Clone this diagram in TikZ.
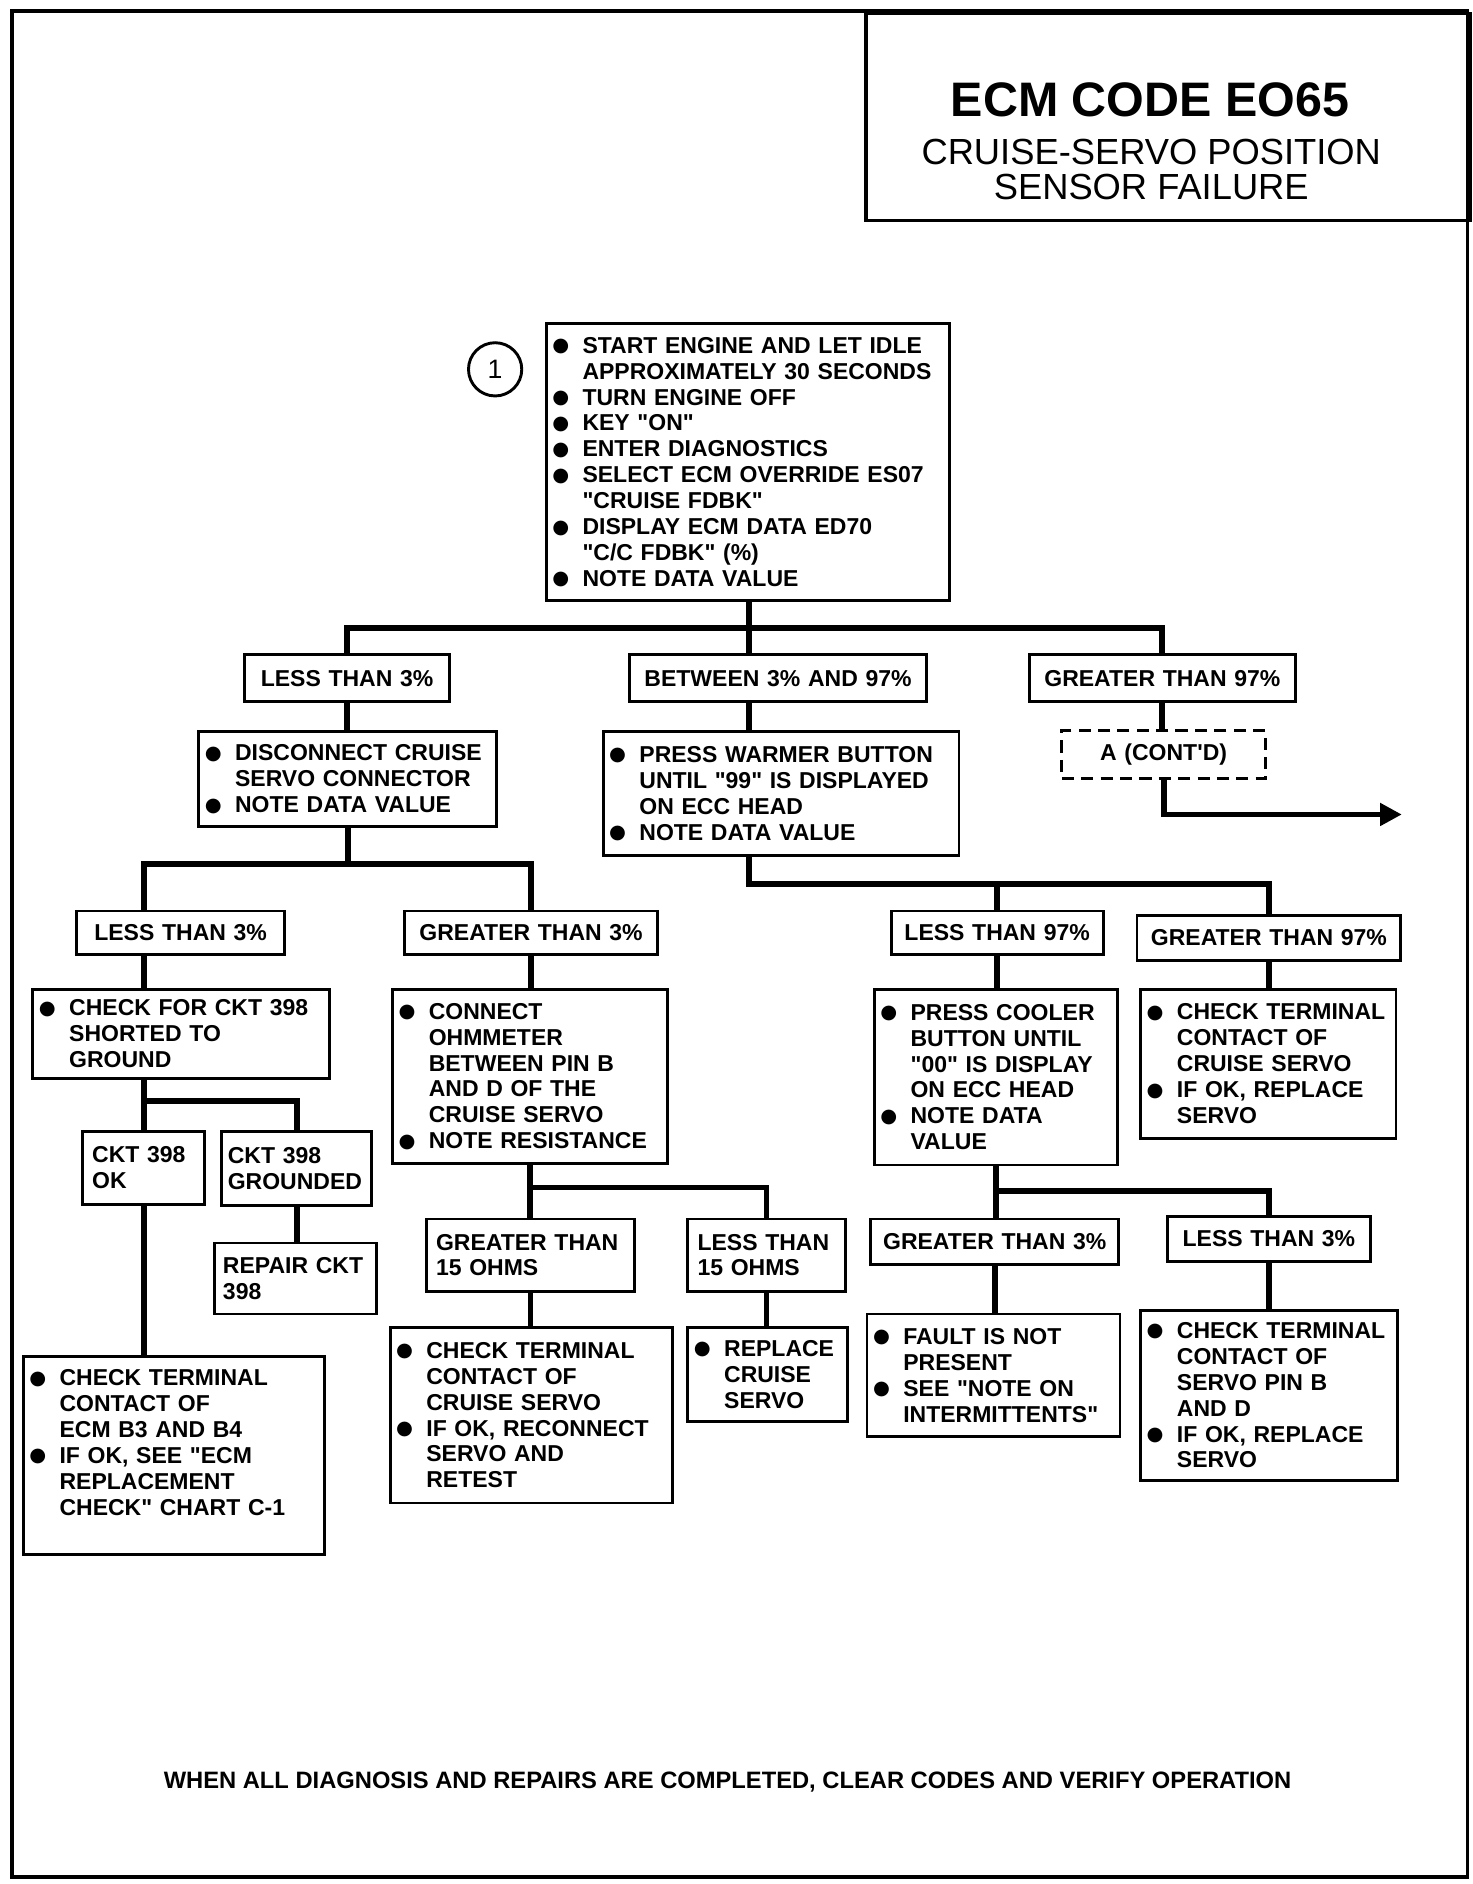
\documentclass[tikz,border=0pt]{standalone}
\usepackage{fontspec}
\setmainfont{Liberation Sans}[Ligatures=TeXOff]
\newfontfamily\dotfont{DejaVu Sans}
\usetikzlibrary{arrows.meta}

\newcommand{\chartfont}{\fontsize{9.5}{10.7}\selectfont\bfseries\hyphenpenalty=10000\exhyphenpenalty=10000}
\newcommand{\bul}{\makebox[13pt][l]{\kern0.5pt\raisebox{0.6pt}{\dotfont\fontsize{8}{8}\selectfont ●}}}
\newcommand{\cnt}{\hspace*{13pt}}

\tikzset{
  box/.style={draw, line width=1.2pt, anchor=north west, inner xsep=2pt, inner ysep=0pt, align=left, font=\chartfont},
  tag/.style={box, align=center},
  plain/.style={box, inner xsep=4pt},
  link/.style={line width=2.4pt},
}

\begin{document}
\begin{tikzpicture}[x=0.5pt, y=-0.4969pt]
\useasboundingbox (0,0) rectangle (1216,1566);

% title block
\node[draw, line width=1.4pt, anchor=north west, inner sep=0pt, minimum width=249.5pt, minimum height=85.5pt] (titlebox) at (714,10) {};
\node[anchor=base, font=\fontsize{20}{24}\selectfont\bfseries] (code) at (950,97) {ECM CODE EO65};
\node[anchor=base, font=\fontsize{15}{15}\selectfont] (subone) at (951,137) {CRUISE-SERVO POSITION};
\node[anchor=base, font=\fontsize{15}{15}\selectfont] (subtwo) at (951,166) {SENSOR FAILURE};

% first step
\node[circle, draw, line width=1.2pt, minimum size=22pt, inner sep=0pt, font=\fontsize{11}{13}\selectfont] (stepone) at (409,307) {1};
\node[box, text width=162.5pt, minimum height=114.3pt] (start) at (450,268)
  {\bul START ENGINE AND LET IDLE\\ \cnt APPROXIMATELY 30 SECONDS\\ \bul TURN ENGINE OFF\\ \bul KEY "ON"\\
   \bul ENTER DIAGNOSTICS\\ \bul SELECT ECM OVERRIDE ES07\\ \cnt "CRUISE FDBK"\\ \bul DISPLAY ECM DATA ED70\\
   \cnt "C/C FDBK" (\%)\\ \bul NOTE DATA VALUE};

% data value
\node[tag, text width=80.5pt, minimum height=19.4pt] (less1) at (201,543) {LESS THAN 3\%};
\node[tag, text width=118.5pt, minimum height=19.4pt] (between1) at (519,543) {BETWEEN 3\% AND 97\%};
\node[tag, text width=106pt, minimum height=19.4pt] (greater1) at (849,543) {GREATER THAN 97\%};

\node[box, text width=119pt, minimum height=39.3pt] (disconnect) at (163,607)
  {\bul DISCONNECT CRUISE\\ \cnt SERVO CONNECTOR\\ \bul NOTE DATA VALUE};
\node[box, text width=143pt, minimum height=51.2pt] (warmer) at (497,607)
  {\bul PRESS WARMER BUTTON\\ \cnt UNTIL "99" IS DISPLAYED\\ \cnt ON ECC HEAD\\ \bul NOTE DATA VALUE};
\node[tag, dash pattern=on 5pt off 3pt, text width=80pt, minimum height=19.9pt] (contd) at (876,606) {A (CONT'D)};
\coordinate (contarrow) at (1158,677);

% second data value
\node[tag, text width=82pt, minimum height=17.9pt] (less2) at (62,756) {LESS THAN 3\%};
\node[tag, text width=100.5pt, minimum height=17.9pt] (greater2) at (333,756) {GREATER THAN 3\%};
\node[tag, text width=83.5pt, minimum height=17.9pt] (less97) at (735,756) {LESS THAN 97\%};
\node[tag, text width=105pt, minimum height=18.4pt] (greater97) at (938,760) {GREATER THAN 97\%};

\node[box, text width=118.5pt, minimum height=36.8pt] (ckt) at (26,821)
  {\bul CHECK FOR CKT 398\\ \cnt SHORTED TO\\ \cnt GROUND};
\node[box, text width=109.5pt, minimum height=72.1pt] (ohm) at (323,821)
  {\bul CONNECT\\ \cnt OHMMETER\\ \cnt BETWEEN PIN B\\ \cnt AND D OF THE\\ \cnt CRUISE SERVO\\ \bul NOTE RESISTANCE};
\node[box, text width=96.5pt, minimum height=72.6pt] (cooler) at (721,821)
  {\bul PRESS COOLER\\ \cnt BUTTON UNTIL\\ \cnt "00" IS DISPLAY\\ \cnt ON ECC HEAD\\ \bul NOTE DATA\\ \cnt VALUE};
\node[box, text width=101.5pt, minimum height=61.6pt] (termcruise) at (941,821)
  {\bul CHECK TERMINAL\\ \cnt CONTACT OF\\ \cnt CRUISE SERVO\\ \bul IF OK, REPLACE\\ \cnt SERVO};

% results
\node[plain, text width=42.5pt, minimum height=30.3pt] (cktok) at (67,939) {CKT 398\\ OK};
\node[plain, inner xsep=2.5pt, text width=57pt, minimum height=30.8pt] (cktgnd) at (182,939) {CKT 398\\ GROUNDED};
\node[plain, text width=78pt, minimum height=29.8pt] (ohmhigh) at (351,1012) {GREATER THAN\\ 15 OHMS};
\node[plain, text width=57pt, minimum height=29.8pt] (ohmlow) at (567,1012) {LESS THAN\\ 15 OHMS};
\node[tag, text width=98.5pt, minimum height=18.9pt] (gt3) at (718,1012) {GREATER THAN 3\%};
\node[tag, text width=80pt, minimum height=18.4pt] (lt3) at (963,1010) {LESS THAN 3\%};

\node[plain, inner xsep=3.5pt, text width=60pt, minimum height=29.3pt] (repair) at (176,1032) {REPAIR CKT\\ 398};
\node[box, text width=120.5pt, minimum height=82pt] (termecm) at (18,1126)
  {\bul CHECK TERMINAL\\ \cnt CONTACT OF\\ \cnt ECM B3 AND B4\\ \bul IF OK, SEE "ECM\\ \cnt REPLACEMENT\\ \cnt CHECK" CHART C-1\\ \mbox{}};
\node[box, text width=112.5pt, minimum height=72.6pt] (retest) at (321,1102)
  {\bul CHECK TERMINAL\\ \cnt CONTACT OF\\ \cnt CRUISE SERVO\\ \bul IF OK, RECONNECT\\ \cnt SERVO AND\\ \cnt RETEST};
\node[box, text width=62pt, minimum height=38.8pt] (replace) at (567,1102)
  {\bul REPLACE\\ \cnt CRUISE\\ \cnt SERVO};
\node[box, text width=100.5pt, minimum height=50.7pt] (fault) at (715,1091)
  {\bul FAULT IS NOT\\ \cnt PRESENT\\ \bul SEE "NOTE ON\\ \cnt INTERMITTENTS"};
\node[box, text width=102pt, minimum height=70.1pt] (termpin) at (941,1088)
  {\bul CHECK TERMINAL\\ \cnt CONTACT OF\\ \cnt SERVO PIN B\\ \cnt AND D\\ \bul IF OK, REPLACE\\ \cnt SERVO};

\node[anchor=base, font=\fontsize{9.8}{11}\selectfont\bfseries] (note) at (601,1487)
  {WHEN ALL DIAGNOSIS AND REPAIRS ARE COMPLETED, CLEAR CODES AND VERIFY OPERATION};

% junctions
\coordinate (colL) at (119,0);
\coordinate (colM) at (619,0);
\coordinate (busA) at (619,522);
\coordinate (busB) at (286,718);
\coordinate (busC) at (619,735);
\coordinate (busD) at (119,915);
\coordinate (busE) at (437,987);
\coordinate (busF) at (822,990);

% connectors
\draw[link] (start.south -| colM) -- (between1.north -| colM);
\draw[link] (less1.north) |- (busA) -| (greater1.north);
\draw[link] (between1.south -| colM) -- (warmer.north -| colM);
\draw[link, -{Triangle[length=9pt, width=9pt]}] (contd.south) |- (contarrow);

\draw[link] (disconnect.south) -- (disconnect.south |- busB);
\draw[link] (less2.north -| colL) |- (busB) -| (greater2.north);
\draw[link] (warmer.south -| colM) -- (busC) -| (greater97.north);
\draw[link] (less97.north) -- (less97.north |- busC);

\draw[link] (less2.south -| colL) -- (ckt.north -| colL);
\draw[link] (ckt.south -| colL) -- (cktok.north -| colL);
\draw[link] (busD) -| (cktgnd.north);
\draw[link] (cktok.south -| colL) -- (termecm.north -| colL);

\draw[link] (ohm.south) -- (ohmhigh.north -| ohm.south);
\draw[link] (busE) -| (ohmlow.north);
\draw[link] (cooler.south) -- (gt3.north -| cooler.south);
\draw[link] (busF) -| (lt3.north);

\foreach \a/\b in {less1/disconnect, greater1/contd, greater2/ohm, less97/cooler, greater97/termcruise,
                   cktgnd/repair, ohmhigh/retest, ohmlow/replace, gt3/fault, lt3/termpin}
{
    \draw[link] (\a.south) -- (\b.north -| \a.south);
}

% frame
\draw[line width=1.4pt] (10,9) rectangle (1212,1560);
\end{tikzpicture}
\end{document}
